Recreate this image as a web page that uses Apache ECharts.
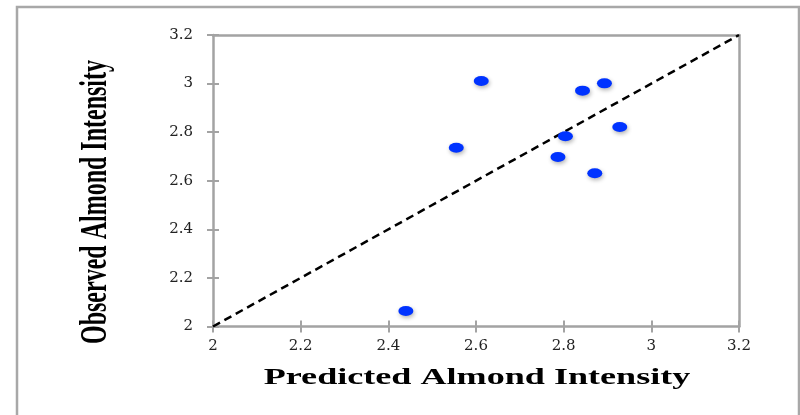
<!DOCTYPE html>
<html>
<head>
<meta charset="utf-8">
<script src="https://cdn.jsdelivr.net/npm/echarts@6/dist/echarts.min.js"></script>
<style>
  html, body { margin: 0; padding: 0; background: #fff; }
  #chart { width: 800px; height: 415px; }
</style>
</head>
<body>
<div id="chart"></div>
<script>
// predicted vs observed almond intensity
const predicted = [2.612, 2.555, 2.44, 2.843, 2.893, 2.804, 2.787, 2.928, 2.871];
const observed  = [3.011, 2.736, 2.064, 2.971, 3.001, 2.783, 2.698, 2.821, 2.631];
const refLine = [[2, 2], [3.2, 3.2]];
const axisMin = 2, axisMax = 3.2, axisStep = 0.2;

const gray = '#a3a3a3';
const points = predicted.map(function (p, i) { return [p, observed[i]]; });

const chart = echarts.init(document.getElementById('chart'));

// axes that share the same scale; extra ones only draw the box and inner ticks
function axis(pos, extra) {
    return Object.assign({
        type: 'value',
        position: pos,
        min: axisMin,
        max: axisMax,
        interval: axisStep,
        splitLine: { show: false },
        axisLine: { show: false },
        axisTick: { show: false },
        axisLabel: { show: false }
    }, extra);
}

const labelStyle = {
    fontFamily: 'DejaVu Serif',
    fontSize: 15,
    color: '#222'
};

chart.setOption({
    animation: false,
    backgroundColor: '#fff',
    grid: { left: 213, right: 61, top: 35, bottom: 88.5 },
    xAxis: [
        axis('bottom', {
            axisLine: { show: true, onZero: false, lineStyle: { color: gray, width: 2.5 } },
            axisTick: { show: true, length: 6, lineStyle: { color: gray, width: 2 } },
            axisLabel: Object.assign({ show: true, margin: 12 }, labelStyle)
        }),
        axis('top', {
            axisLine: { show: true, onZero: false, lineStyle: { color: gray, width: 2.5 } }
        }),
        axis('bottom', {
            axisTick: { show: true, inside: true, length: 6, lineStyle: { color: gray, width: 2 } }
        })
    ],
    yAxis: [
        axis('left', {
            axisLine: { show: true, onZero: false, lineStyle: { color: gray, width: 2.5 } },
            axisTick: { show: true, length: 6, lineStyle: { color: gray, width: 2 } },
            axisLabel: Object.assign({ show: true, margin: 20,
                formatter: function (v) { return String(+v.toFixed(1)); } }, labelStyle)
        }),
        axis('right', {
            axisLine: { show: true, onZero: false, lineStyle: { color: gray, width: 2.5 } }
        }),
        axis('left', {
            axisTick: { show: true, inside: true, length: 6, lineStyle: { color: gray, width: 2 } }
        })
    ],
    graphic: [
        {
            type: 'rect',
            shape: { x: 17, y: 7, width: 782, height: 430 },
            style: { fill: 'none', stroke: '#a8a8a8', lineWidth: 2.5 },
            silent: true
        },
        {
            // the original picture was stretched sideways, hence the scale
            type: 'text',
            x: 477, y: 378,
            scaleX: 1.57,
            style: {
                text: 'Predicted Almond Intensity',
                font: 'bold 23px "Liberation Serif"',
                fill: '#000',
                textAlign: 'center',
                textVerticalAlign: 'middle'
            }
        },
        {
            type: 'text',
            x: 96, y: 202,
            rotation: Math.PI / 2,
            scaleY: 1.57,
            style: {
                text: 'Observed Almond Intensity',
                font: 'bold 24px "Liberation Serif"',
                fill: '#000',
                textAlign: 'center',
                textVerticalAlign: 'middle'
            }
        }
    ],
    series: [
        {
            type: 'line',
            data: refLine,
            symbol: 'none',
            lineStyle: { color: '#000', width: 2.5, type: [8, 5] },
            z: 2
        },
        {
            type: 'scatter',
            data: points,
            symbol: 'circle',
            symbolSize: [15, 10],
            itemStyle: {
                color: '#0033ff',
                opacity: 1,
                shadowBlur: 4,
                shadowColor: 'rgba(0,0,0,0.3)',
                shadowOffsetX: 1,
                shadowOffsetY: 2
            },
            z: 3
        }
    ]
});
</script>
</body>
</html>
